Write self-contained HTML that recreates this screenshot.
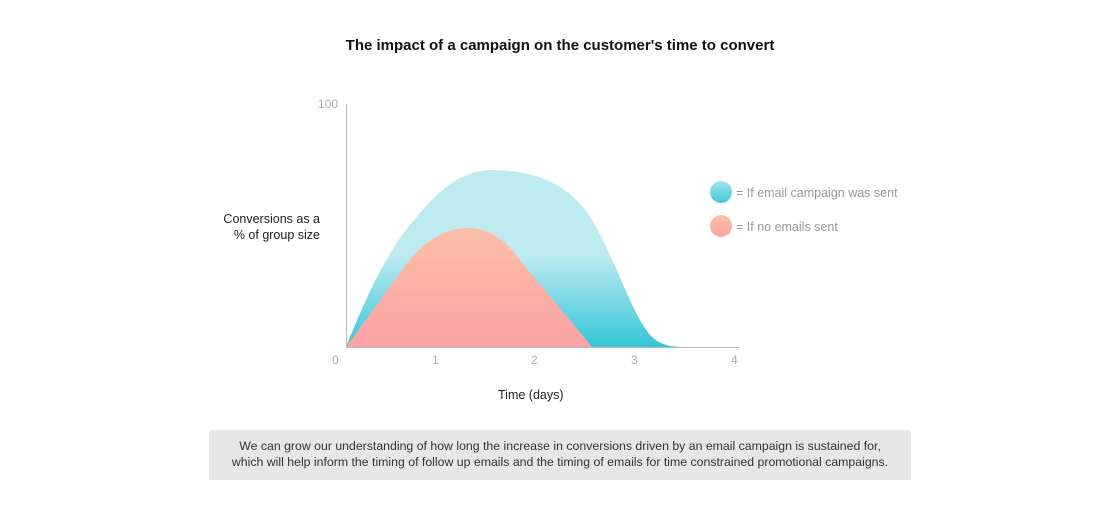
<!DOCTYPE html>
<html><head><style>
body{margin:0;width:1120px;height:520px;background:#fff;font-family:"Liberation Sans",sans-serif;position:relative;overflow:hidden}
.t{position:absolute;white-space:nowrap}
</style></head><body>
<div class="t" style="left:0;width:1120px;text-align:center;top:37px;font-size:15px;font-weight:bold;color:#111">The impact of a campaign on the customer's time to convert</div>
<div class="t" style="left:200px;width:120px;text-align:right;top:211px;font-size:12.5px;color:#222;line-height:16px">Conversions as a<br>% of group size</div>
<div class="t" style="left:498px;top:388px;font-size:12.5px;color:#222">Time (days)</div>
<svg width="1120" height="520" style="position:absolute;left:0;top:0">
<defs>
<linearGradient id="b" x1="0" y1="0" x2="0" y2="1" gradientUnits="objectBoundingBox">
<stop offset="0" stop-color="#bdebf0"/><stop offset="0.48" stop-color="#bdebf0"/><stop offset="1" stop-color="#35c6d7"/></linearGradient>
<linearGradient id="p" x1="0" y1="0" x2="0" y2="1">
<stop offset="0" stop-color="#fdbfa7"/><stop offset="1" stop-color="#fca2a5"/></linearGradient>
<linearGradient id="lb" x1="0" y1="0" x2="0" y2="1"><stop offset="0" stop-color="#a6e6ee"/><stop offset="1" stop-color="#3cc7d8"/></linearGradient>
<linearGradient id="lp" x1="0" y1="0" x2="0" y2="1"><stop offset="0" stop-color="#fdbfa9"/><stop offset="1" stop-color="#fca4a6"/></linearGradient>
</defs>
<path d="M346,347 C365,300 385,255 410,225 C435,195 455,172 490,170 C530,170 570,180 595,225 C620,270 630,310 650,335 C660,345 670,347 685,347 Z" fill="url(#b)"/>
<path d="M346,347 L408,262 C430,235 450,228 468,228 C490,228 505,240 520,260 L592,347 Z" fill="url(#p)"/>
<line x1="346.5" y1="104" x2="346.5" y2="348" stroke="#bbb"/>
<line x1="346" y1="347.5" x2="740" y2="347.5" stroke="#bbb"/>
<g font-size="12" fill="#aaa" font-family="Liberation Sans,sans-serif">
<text x="318" y="108">100</text>
<text x="332" y="364">0</text><text x="432" y="364">1</text><text x="531" y="364">2</text><text x="631" y="364">3</text><text x="731" y="364">4</text>
</g>
<circle cx="721" cy="192" r="11" fill="url(#lb)"/>
<circle cx="721" cy="226" r="11" fill="url(#lp)"/>
<g font-size="12.5" fill="#999" font-family="Liberation Sans,sans-serif">
<text x="736" y="197">= If email campaign was sent</text>
<text x="736" y="231">= If no emails sent</text>
</g>
</svg>
<div style="position:absolute;left:209px;top:430px;width:702px;height:50px;background:#e7e7e7;border-radius:2px"></div>
<div class="t" style="left:209px;width:702px;text-align:center;top:438px;font-size:12.3px;color:#333;line-height:16px">We can grow our understanding of how long the increase in conversions driven by an email campaign is sustained for,<br>which will help inform the timing of follow up emails and the timing of emails for time constrained promotional campaigns.</div>
</body></html>
